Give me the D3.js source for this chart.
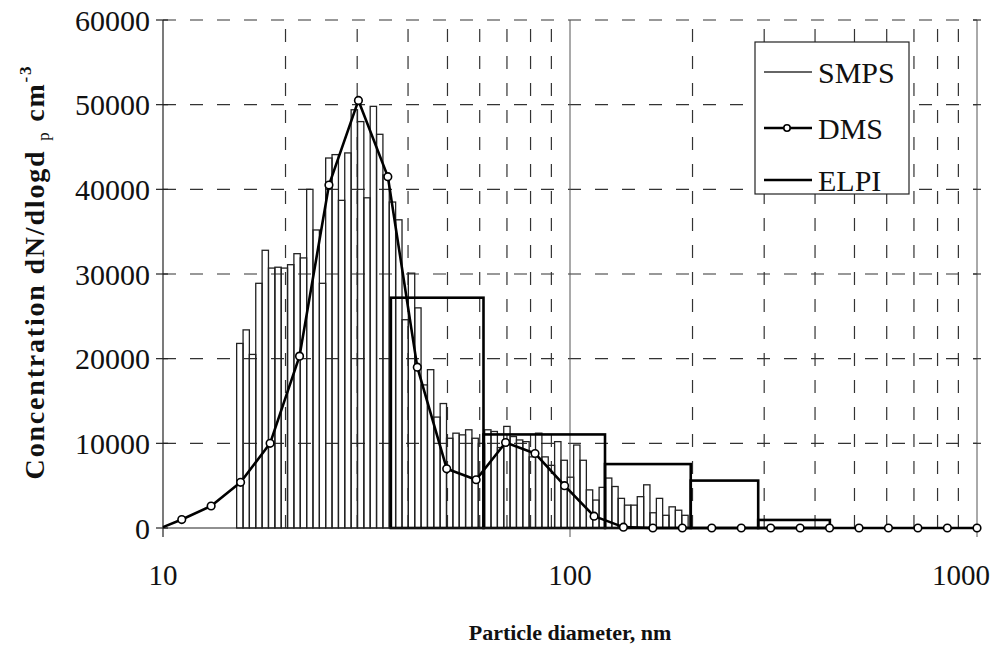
<!DOCTYPE html>
<html>
<head>
<meta charset="utf-8">
<script src="https://cdn.jsdelivr.net/npm/d3@7"></script>
<style>
  body { margin: 0; background: #fff; }
  svg { display: block; }
  text { font-family: "Liberation Serif", "Times New Roman", serif; fill: #111; }
</style>
</head>
<body>
<div id="chart"></div>
<script>
// SMPS channel edges (nm) and concentrations
var smpsEdges = [15.17, 15.73, 16.30, 16.90, 17.52, 18.16, 18.83, 19.52, 20.23, 20.97,
  21.74, 22.54, 23.36, 24.22, 25.10, 26.02, 26.98, 27.96, 28.99, 30.05,
  31.15, 32.29, 33.47, 34.70, 35.97, 37.29, 38.66, 40.07, 41.54, 43.06,
  44.64, 46.27, 47.97, 49.73, 51.55, 53.43, 55.39, 57.42, 59.52, 61.70,
  63.96, 66.31, 68.74, 71.25, 73.86, 76.57, 79.37, 82.28, 85.30, 88.42,
  91.66, 95.02, 98.50, 102.1, 105.8, 109.7, 113.7, 117.9, 122.2, 126.7,
  131.3, 136.1, 141.1, 146.3, 151.7, 157.2, 163.0, 168.9, 175.1, 181.5,
  188.2, 195.1];
var smpsValues = [21800, 23400, 20500, 28900, 32800, 30700, 30800, 30700, 31100, 32400,
  31900, 40000, 35200, 28900, 43700, 44100, 38700, 44300, 49400, 48000,
  39000, 49800, 46500, 41700, 38500, 36400, 24600, 30100, 26000, 16900,
  18700, 13100, 14700, 10600, 11200, 11000, 11600, 10600, 10000, 11600,
  11400, 9500, 12000, 10800, 10400, 10200, 8400, 11200, 8400, 7400,
  10200, 8000, 6000, 9800, 8000, 4500, 3300, 4800, 5900, 4900,
  3500, 2700, 2700, 3700, 5100, 1800, 3500, 1500, 2500, 2100, 1500];

// DMS channels (nm) and concentrations
var dmsDiam = [11.12, 13.13, 15.51, 18.33, 21.65, 25.57, 30.21, 35.68, 42.15, 49.78,
  58.80, 69.46, 82.04, 96.97, 114.6, 135.3, 159.8, 188.8, 223.0, 263.5,
  311.2, 367.6, 434.2, 513.0, 605.9, 715.8, 845.5, 1000];
var dmsValues = [1000, 2600, 5400, 10000, 20300, 40500, 50500, 41500, 19000, 7000,
  5700, 10100, 8800, 5000, 1400, 100, 0, 0, 0, 0,
  0, 0, 0, 0, 0, 0, 0, 0];
var dmsStart = {d: 10, v: 100};

// ELPI stages (nm) and concentrations
var elpiEdges = [36.3, 61.3, 121.9, 198, 290, 435];
var elpiValues = [27200, 11050, 7550, 5600, 950];

var yTicks = [0, 10000, 20000, 30000, 40000, 50000, 60000];
var xTicks = [10, 100, 1000];
var xGrid = [20, 30, 40, 50, 60, 70, 80, 90, 200, 300, 400, 500, 600, 700, 800, 900];

var W = 1007, H = 649;
var pLeft = 163, pRight = 977, pTop = 20, pBottom = 528;

var svg = d3.select('#chart').append('svg')
    .attr('width', W).attr('height', H);

var x = d3.scaleLog().domain([10, 1000]).range([pLeft, pRight]);
var y = d3.scaleLinear().domain([0, 60000]).range([pBottom, pTop]);

// grid
svg.append('g').selectAll('line').data(yTicks.slice(1)).enter().append('line')
    .attr('x1', pLeft).attr('x2', pRight)
    .attr('y1', d => y(d)).attr('y2', d => y(d))
    .style('stroke', '#333').style('stroke-width', 1.2)
    .style('stroke-dasharray', '13,14');
svg.append('g').selectAll('line').data(xGrid).enter().append('line')
    .attr('x1', d => x(d)).attr('x2', d => x(d))
    .attr('y1', pBottom).attr('y2', pTop)
    .style('stroke', '#333').style('stroke-width', 1.2)
    .style('stroke-dasharray', '13,14');
// solid line at 100 and right border
svg.append('line')
    .attr('x1', x(100)).attr('x2', x(100)).attr('y1', pTop).attr('y2', pBottom + 9)
    .style('stroke', '#555').style('stroke-width', 1);
svg.append('line')
    .attr('x1', x(1000)).attr('x2', x(1000)).attr('y1', pTop).attr('y2', pBottom + 9)
    .style('stroke', '#555').style('stroke-width', 1);
svg.append('g').selectAll('line').data(yTicks.slice(1)).enter().append('line')
    .attr('x1', pRight - 4).attr('x2', pRight + 4)
    .attr('y1', d => y(d)).attr('y2', d => y(d))
    .style('stroke', '#333').style('stroke-width', 1.2);

// SMPS bars
var smps = smpsValues.map((v, i) => ({x0: smpsEdges[i], x1: smpsEdges[i + 1], v: v}));
svg.append('g').selectAll('rect').data(smps).enter().append('rect')
    .attr('x', d => x(d.x0))
    .attr('width', d => x(d.x1) - x(d.x0))
    .attr('y', d => y(d.v))
    .attr('height', d => y(0) - y(d.v))
    .style('fill', 'none')
    .style('stroke', '#222').style('stroke-width', 1.3);

// ELPI bars
var elpi = elpiValues.map((v, i) => ({x0: elpiEdges[i], x1: elpiEdges[i + 1], v: v}));
svg.append('g').selectAll('rect').data(elpi).enter().append('rect')
    .attr('x', d => x(d.x0))
    .attr('width', d => x(d.x1) - x(d.x0))
    .attr('y', d => y(d.v))
    .attr('height', d => y(0) - y(d.v))
    .style('fill', 'none')
    .style('stroke', '#000').style('stroke-width', 2.6);

// axes lines
svg.append('line')
    .attr('x1', pLeft).attr('x2', pLeft).attr('y1', pTop).attr('y2', pBottom + 9)
    .style('stroke', '#222').style('stroke-width', 1.2);
svg.append('line')
    .attr('x1', pLeft).attr('x2', pRight).attr('y1', pBottom).attr('y2', pBottom)
    .style('stroke', '#222').style('stroke-width', 1.2);
svg.append('g').selectAll('line').data(yTicks).enter().append('line')
    .attr('x1', pLeft - 7).attr('x2', pLeft + 5)
    .attr('y1', d => y(d)).attr('y2', d => y(d))
    .style('stroke', '#222').style('stroke-width', 1.2);

// DMS line
var dms = [dmsStart].concat(dmsDiam.map((d, i) => ({d: d, v: dmsValues[i]})));
var line = d3.line().x(d => x(d.d)).y(d => y(d.v));
svg.append('path').datum(dms)
    .attr('d', line)
    .style('fill', 'none').style('stroke', '#000').style('stroke-width', 2.6)
    .style('stroke-linejoin', 'round');
svg.append('g').selectAll('circle').data(dms.slice(1)).enter().append('circle')
    .attr('cx', d => x(d.d)).attr('cy', d => y(d.v))
    .attr('r', 3.8)
    .style('fill', '#fff').style('stroke', '#000').style('stroke-width', 1.6);

// tick labels
svg.append('g').selectAll('text').data(yTicks).enter().append('text')
    .attr('x', 150).attr('y', d => y(d))
    .attr('dy', '0.35em')
    .attr('text-anchor', 'end')
    .style('font-size', '30px')
    .text(d => d);
svg.append('g').selectAll('text').data(xTicks).enter().append('text')
    .attr('x', d => x(d) + (d === 1000 ? -16 : 0)).attr('y', 585)
    .attr('text-anchor', 'middle')
    .style('font-size', '29px')
    .text(d => d);

// axis titles
svg.append('text')
    .attr('x', 570).attr('y', 640)
    .attr('text-anchor', 'middle')
    .style('font-size', '22px').style('font-weight', 'bold')
    .text('Particle diameter, nm');

var yt = svg.append('text')
    .attr('transform', 'translate(44,272) rotate(-90)')
    .attr('text-anchor', 'middle')
    .style('font-size', '28px').style('font-weight', 'bold')
    .style('letter-spacing', '1.8px');
yt.append('tspan').text('Concentration dN/dlogd ');
yt.append('tspan').attr('dy', 5).style('font-size', '17px').style('font-weight', 'normal').text('p');
yt.append('tspan').attr('dy', -5).text(' cm');
yt.append('tspan').attr('dy', -13).style('font-size', '17px').text('-3');

// legend
var lg = svg.append('g');
lg.append('rect')
    .attr('x', 755).attr('y', 42).attr('width', 154).attr('height', 152)
    .style('fill', '#fff').style('stroke', '#222').style('stroke-width', 1.2);
var legendItems = ['SMPS', 'DMS', 'ELPI'];
var legendY = [72, 128, 180];
legendItems.forEach(function(name, i) {
    var ly = legendY[i];
    lg.append('line')
        .attr('x1', 764).attr('x2', 812).attr('y1', ly).attr('y2', ly)
        .style('stroke', name === 'SMPS' ? '#333' : '#000')
        .style('stroke-width', name === 'SMPS' ? 1.3 : 2.6);
    if (name === 'DMS') {
        lg.append('circle').attr('cx', 787).attr('cy', ly).attr('r', 3.2)
            .style('fill', '#fff').style('stroke', '#000').style('stroke-width', 1.6);
    }
    lg.append('text')
        .attr('x', 818).attr('y', ly).attr('dy', '0.35em')
        .style('font-size', '30px')
        .text(name);
});
</script>
</body>
</html>
